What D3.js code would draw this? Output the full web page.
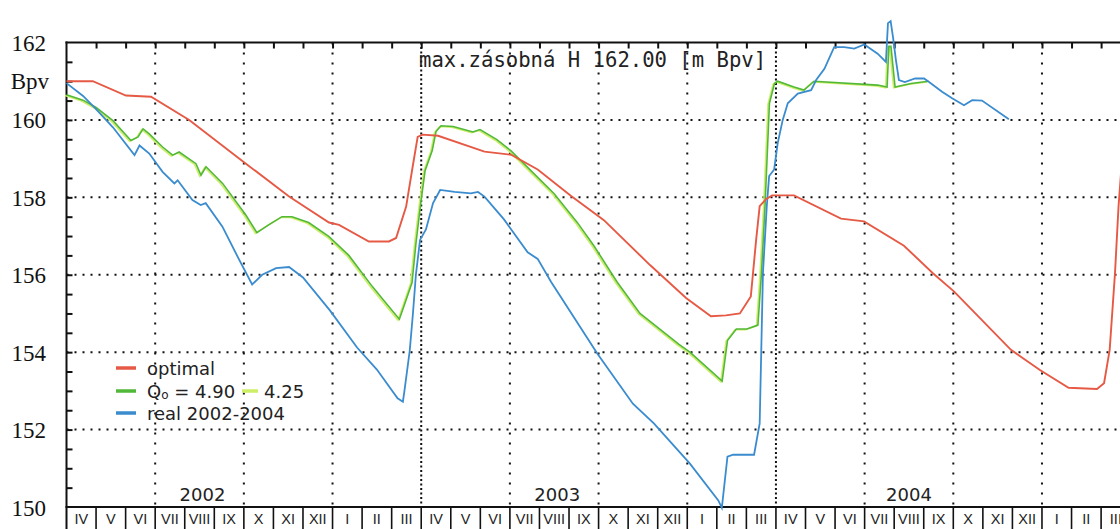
<!DOCTYPE html>
<html><head><meta charset="utf-8">
<script src="https://cdn.jsdelivr.net/npm/d3@7"></script>
<style>html,body{margin:0;padding:0;background:#fff;overflow:hidden}</style>
</head><body><svg id="c" width="1120" height="529"></svg>
<script>
// ---- data (x = months since 1 April 2002, y = level in m Bpv) ----
const monthLabels = ["IV","V","VI","VII","VIII","IX","X","XI","XII","I","II","III",
                     "IV","V","VI","VII","VIII","IX","X","XI","XII","I","II","III",
                     "IV","V","VI","VII","VIII","IX","X","XI","XII","I","II","III"];
const yearLabels = ["2002","2003","2004"];
const yearPos = [4.6, 16.6, 28.5];
const yTicks = [150,152,154,156,158,160,162];
const unitLabel = "Bpv";
const titleText = "max.zásobná H 162.00 [m Bpv]";
const legendLabels = ["optimal","real 2002-2004"];

const optimalM = [0,0.89,2.01,2.86,4.15,6.07,7.53,8.88,9.22,10.23,10.91,11.15,11.49,11.71,11.88,12.05,12.57,14.14,15.04,15.94,17.06,18.18,19.74,20.96,21.80,22.31,22.78,23.15,23.33,23.45,23.66,23.87,24.61,26.20,26.98,28.33,29.31,30.02,31.95,32.93,33.90,34.86,35.10,35.29,35.47,35.59,35.74];
const optimalH = [161.0,161.0,160.63,160.6,160.0,158.87,158.02,157.35,157.29,156.86,156.86,156.95,157.76,158.79,159.56,159.62,159.59,159.18,159.10,158.72,158.04,157.41,156.25,155.4,154.93,154.95,155.0,155.44,156.9,157.77,157.95,158.05,158.05,157.45,157.38,156.75,156.04,155.57,154.06,153.54,153.08,153.05,153.2,154.06,156.04,157.77,159.3];

const q490M = [0,0.56,1.00,1.57,2.18,2.42,2.59,2.80,3.25,3.59,3.81,4.38,4.55,4.72,5.28,6.06,6.44,6.84,7.29,7.63,8.19,8.87,9.55,10.34,10.77,11.26,11.42,11.69,11.82,11.96,12.13,12.37,12.50,12.67,13.08,13.75,13.99,14.56,15.04,15.71,16.49,17.29,17.84,18.62,19.40,20.72,21.09,22.18,22.36,22.66,23.02,23.39,23.51,23.63,23.78,23.95,24.06,24.61,24.95,25.29,27.44,27.76,27.82,27.89,28.03,28.57,29.16];
const q490H = [160.65,160.51,160.32,159.98,159.47,159.56,159.77,159.64,159.30,159.09,159.17,158.87,158.57,158.79,158.36,157.55,157.09,157.29,157.50,157.50,157.35,156.99,156.50,155.70,155.30,154.85,155.20,155.80,156.80,157.70,158.69,159.20,159.70,159.85,159.83,159.69,159.75,159.49,159.20,158.69,158.10,157.34,156.75,155.82,155.0,154.2,154.0,153.25,154.3,154.6,154.6,154.7,156.04,157.77,160.43,160.94,161.0,160.85,160.77,161.0,160.9,160.85,161.9,161.9,160.85,160.94,161.0];

const q425M = [0,0.56,1.00,1.57,2.18,2.42,2.59,2.80,3.25,3.59,3.81,4.38,4.55,4.72,5.28,6.06,6.44,6.84,7.29,7.63,8.19,8.87,9.55,10.34,10.77,11.26,11.42,11.69,11.82,11.96,12.13,12.37,12.50,12.67,13.08,13.75,13.99,14.56,15.04,15.71,16.49,17.29,17.84,18.62,19.40,20.72,21.09,22.18,22.36,22.66,23.02,23.39,23.51,23.63,23.78,23.95,24.06,24.61,24.95,25.29,27.44,27.76,27.82,27.89,28.03,28.57,29.16];
const q425H = [160.65,160.51,160.32,159.98,159.47,159.56,159.77,159.64,159.30,159.09,159.17,158.87,158.57,158.79,158.36,157.55,157.09,157.29,157.50,157.50,157.35,156.99,156.50,155.70,155.30,154.85,155.20,155.80,156.80,157.70,158.69,159.20,159.70,159.85,159.83,159.69,159.75,159.49,159.20,158.69,158.10,157.34,156.75,155.82,155.0,154.2,154.0,153.25,154.3,154.6,154.6,154.7,156.04,157.77,160.43,160.94,161.0,160.85,160.77,161.0,160.9,160.85,161.9,161.9,160.85,160.94,161.0];

const realM = [0,0.56,1.00,1.57,2.30,2.47,2.80,3.25,3.65,3.76,4.26,4.54,4.71,5.27,5.84,6.28,6.62,7.09,7.53,8.00,8.91,9.83,10.50,11.20,11.38,11.43,11.61,11.72,11.82,11.96,12.16,12.40,12.64,13.13,13.68,13.92,14.14,14.80,15.60,15.94,16.39,17.95,19.16,19.87,21.09,22.05,22.17,22.36,22.55,23.26,23.45,23.56,23.69,23.77,23.94,24.06,24.23,24.40,24.74,25.19,25.36,25.64,25.97,26.31,26.65,26.99,27.44,27.72,27.79,27.88,27.96,28.06,28.16,28.36,28.71,29.01,29.18,29.62,29.96,30.36,30.64,30.97,31.88];
const realH = [160.95,160.62,160.28,159.81,159.09,159.34,159.13,158.66,158.36,158.44,157.93,157.80,157.85,157.25,156.39,155.75,156.00,156.17,156.20,155.93,155.08,154.12,153.55,152.81,152.72,152.99,154.03,155.0,156.0,156.9,157.17,157.85,158.19,158.14,158.10,158.14,158.02,157.43,156.58,156.41,155.82,153.97,152.67,152.16,151.12,150.17,149.98,151.30,151.35,151.35,152.16,156.04,157.77,158.55,158.72,159.40,160.00,160.43,160.68,160.77,161.03,161.32,161.88,161.88,161.84,161.95,161.71,161.50,162.50,162.55,162.14,161.54,161.03,160.98,161.07,161.07,160.98,160.73,160.56,160.38,160.51,160.50,160.02];

// ---- drawing ----
const C = {red:"#e65a45", green:"#52b83a", light:"#cdee66", blue:"#3a8ccf"};
const svg = d3.select("#c");
svg.append("rect").attr("width",1120).attr("height",529).attr("fill","#fff");

const x = d3.scaleLinear().domain([0, 36]).range([66.5, 66.5 + 36*29.56]);
const y = d3.scaleLinear().domain([150, 162]).range([507, 42.5]);
const yTop = y(162), yBot = y(150), xLeft = x(0), xRight = 1120;

// horizontal dotted grid
svg.append("g").selectAll("line").data(yTicks.filter(v => v>150 && v<162)).join("line")
  .attr("x1", xLeft).attr("x2", xRight).attr("y1", d=>y(d)).attr("y2", d=>y(d))
  .attr("stroke","#111").attr("stroke-width",2).attr("stroke-dasharray","2,6");

// vertical dotted grid (quarters)
const quarters = d3.range(3, 36, 3);
svg.append("g").selectAll("line").data(quarters).join("line")
  .attr("x1", d=>x(d)).attr("x2", d=>x(d)).attr("y1", yTop).attr("y2", yBot)
  .attr("stroke","#111").attr("stroke-width",2)
  .attr("stroke-dasharray", d => d%12===0 ? "2,2.5" : "2,8");

// axes
const axG = svg.append("g");
axG.append("line").attr("x1",xLeft-1).attr("x2",xRight).attr("y1",yTop).attr("y2",yTop).attr("stroke","#111").attr("stroke-width",2.2);
axG.append("line").attr("x1",xLeft-1).attr("x2",xRight).attr("y1",yBot).attr("y2",yBot).attr("stroke","#111").attr("stroke-width",2.2);
axG.append("line").attr("x1",xLeft).attr("x2",xLeft).attr("y1",yTop-1).attr("y2",529).attr("stroke","#111").attr("stroke-width",2);

// top month ticks (inward)
const topAxis = d3.axisBottom(x).tickValues(d3.range(1,36)).tickSize(6).tickFormat("");
svg.append("g").attr("transform",`translate(0,${yTop})`).call(topAxis)
  .call(g=>g.select(".domain").remove())
  .call(g=>g.selectAll(".tick line").attr("stroke","#111").attr("stroke-width",2));

// left half-unit ticks (inward)
const leftAxis = d3.axisRight(y).tickValues(d3.range(150.5, 162, 0.5)).tickSize(6).tickFormat("");
svg.append("g").attr("transform",`translate(${xLeft},0)`).call(leftAxis)
  .call(g=>g.select(".domain").remove())
  .call(g=>g.selectAll(".tick line").attr("stroke","#111").attr("stroke-width",2));

// y labels
svg.append("g").selectAll("text").data(yTicks).join("text")
  .attr("x", 46).attr("y", d=>y(d)+1).attr("text-anchor","end").attr("dominant-baseline","central")
  .attr("font-family","Liberation Serif").attr("font-size",23).attr("fill","#111")
  .text(d=>d);
svg.append("text").attr("x",49).attr("y",y(161)).attr("text-anchor","end").attr("dominant-baseline","central")
  .attr("font-family","Liberation Serif").attr("font-size",23).attr("fill","#111").text(unitLabel);

// month strip
svg.append("g").selectAll("line").data(d3.range(1,37)).join("line")
  .attr("x1",d=>x(d)).attr("x2",d=>x(d)).attr("y1",yBot).attr("y2",529)
  .attr("stroke","#111").attr("stroke-width",1.6);
svg.append("g").selectAll("text").data(monthLabels).join("text")
  .attr("x",(d,i)=>x(i+0.5)).attr("y",519).attr("text-anchor","middle").attr("dominant-baseline","central")
  .attr("font-family","Liberation Sans").attr("font-size",14.5).attr("fill","#222").text(d=>d);

// year labels
svg.append("g").selectAll("text").data(yearLabels).join("text")
  .attr("x",(d,i)=>x(yearPos[i])).attr("y",494).attr("text-anchor","middle").attr("dominant-baseline","central")
  .attr("font-family","DejaVu Sans").attr("font-size",18).attr("fill","#222").text(d=>d);

// title
svg.append("text").attr("x",419).attr("y",67).attr("font-family","DejaVu Sans Mono").attr("font-size",20.6)
  .attr("fill","#222").text(titleText);

// lines
const lineGen = d3.line().x(d=>x(d[0])).y(d=>y(d[1]));
function series(M,H){ return M.map((m,i)=>[m,H[i]]); }
const plotG = svg.append("g");
plotG.append("path").datum(series(q425M,q425H)).attr("d",lineGen).attr("fill","none")
  .attr("stroke",C.light).attr("stroke-width",1.6).attr("transform","translate(-1.4,0.8)");
plotG.append("path").datum(series(q490M,q490H)).attr("d",lineGen).attr("fill","none")
  .attr("stroke",C.green).attr("stroke-width",1.6);
plotG.append("path").datum(series(realM,realH)).attr("d",lineGen).attr("fill","none")
  .attr("stroke",C.blue).attr("stroke-width",1.8);
plotG.append("path").datum(series(optimalM,optimalH)).attr("d",lineGen).attr("fill","none")
  .attr("stroke",C.red).attr("stroke-width",1.9);

// legend
const lg = svg.append("g").attr("font-family","DejaVu Sans").attr("font-size",18).attr("fill","#222");
const rows = [368, 391, 413];
lg.append("line").attr("x1",116).attr("x2",136).attr("y1",rows[0]).attr("y2",rows[0]).attr("stroke",C.red).attr("stroke-width",3.5);
lg.append("line").attr("x1",116).attr("x2",136).attr("y1",rows[1]).attr("y2",rows[1]).attr("stroke",C.green).attr("stroke-width",3.5);
lg.append("line").attr("x1",116).attr("x2",136).attr("y1",rows[2]).attr("y2",rows[2]).attr("stroke",C.blue).attr("stroke-width",3.5);
lg.append("text").attr("x",147).attr("y",rows[0]).attr("dominant-baseline","central").text(legendLabels[0]);
const qt = lg.append("text").attr("x",147).attr("y",rows[1]).attr("dominant-baseline","central");
qt.append("tspan").text("Q");
qt.append("tspan").attr("font-size",12).attr("dy",4).text("o");
qt.append("tspan").attr("dy",-4).text(" = 4.90");
lg.append("line").attr("x1",242).attr("x2",258).attr("y1",rows[1]).attr("y2",rows[1]).attr("stroke",C.light).attr("stroke-width",3.5);
lg.append("text").attr("x",264).attr("y",rows[1]).attr("dominant-baseline","central").text("4.25");
lg.append("text").attr("x",147).attr("y",rows[2]).attr("dominant-baseline","central").text(legendLabels[1]);
</script></body></html>
